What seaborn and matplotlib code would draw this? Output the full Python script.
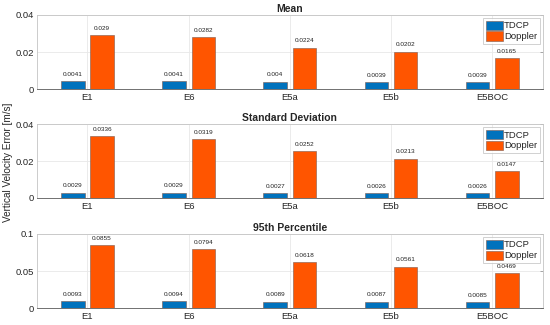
import pandas as pd
import seaborn as sns
import matplotlib
matplotlib.use('Agg')
import matplotlib.pyplot as plt
from matplotlib.ticker import FormatStrFormatter

# Data
bands = ['E1', 'E6', 'E5a', 'E5b', 'E5BOC']
methods = ['TDCP', 'Doppler']
titles = ['Mean', 'Standard Deviation', '95th Percentile']

mean_tdcp = [0.0041, 0.0041, 0.004, 0.0039, 0.0039]
mean_doppler = [0.029, 0.0282, 0.0224, 0.0202, 0.0165]
std_tdcp = [0.0029, 0.0029, 0.0027, 0.0026, 0.0026]
std_doppler = [0.0336, 0.0319, 0.0252, 0.0213, 0.0147]
p95_tdcp = [0.0093, 0.0094, 0.0089, 0.0087, 0.0085]
p95_doppler = [0.0855, 0.0794, 0.0618, 0.0561, 0.0469]

y_ticks = [[0, 0.02, 0.04], [0, 0.02, 0.04], [0, 0.05, 0.1]]

colors = {'TDCP': '#0072BD', 'Doppler': '#FF5500'}

sns.set_style('white')
plt.rcParams['font.family'] = ['Liberation Sans', 'DejaVu Sans']

fig = plt.figure(figsize=(5.5, 3.25), dpi=100)

# axes boxes (left, bottom, width, height) in figure fractions
boxes = [(0.067, 0.726, 0.920, 0.228),
         (0.067, 0.391, 0.920, 0.227),
         (0.067, 0.052, 0.920, 0.228)]

series = [(mean_tdcp, mean_doppler), (std_tdcp, std_doppler), (p95_tdcp, p95_doppler)]

for box, title, (tdcp, dop), ticks in zip(boxes, titles, series, y_ticks):
    ax = fig.add_axes(box)
    df = pd.DataFrame({
        'band': bands * 2,
        'method': ['TDCP'] * len(bands) + ['Doppler'] * len(bands),
        'value': tdcp + dop,
    })
    sns.barplot(data=df, x='band', y='value', hue='method', hue_order=methods,
                palette=colors, saturation=1, errorbar=None, width=0.58, gap=0.2,
                edgecolor='#7a5a50', linewidth=0.4, ax=ax)
    for cont in ax.containers:
        ax.bar_label(cont, fmt='%g', fontsize=4.6, padding=3, color='#222222')

    ax.set_xlim(-0.5, 4.5)
    ax.set_ylim(ticks[0], ticks[-1])
    ax.set_yticks(ticks)
    ax.yaxis.set_major_formatter(FormatStrFormatter('%g'))
    ax.set_xlabel('')
    ax.set_ylabel('')
    ax.set_title(title, fontsize=7.5, fontweight='bold', pad=2)
    ax.grid(True, color='#e8e8e8', linewidth=0.6)
    ax.set_axisbelow(True)
    ax.tick_params(axis='both', labelsize=6.8, colors='#262626', direction='in',
                   length=2.5, width=0.5, pad=2, right=True, top=False)
    ax.tick_params(axis='both', color='#8a8a8a')
    ax.tick_params(axis='x', length=0, pad=3)
    for sp in ax.spines.values():
        sp.set_color('#c4c4c4')
        sp.set_linewidth(0.6)
    ax.spines['bottom'].set_color('#5a5a5a')

    leg = ax.legend(loc='upper right', fontsize=6.8, frameon=True, fancybox=False,
                    handlelength=1.8, handleheight=1.1, handletextpad=0.15,
                    labelspacing=0.12, borderpad=0.25, borderaxespad=0.35)
    leg.get_frame().set_edgecolor('#bdbdbd')
    leg.get_frame().set_linewidth(0.6)

fig.text(0.015, 0.5, 'Vertical Velocity Error [m/s]', rotation=90,
         va='center', ha='center', fontsize=7.2, color='#262626')

fig.savefig('out.png', dpi=100)
